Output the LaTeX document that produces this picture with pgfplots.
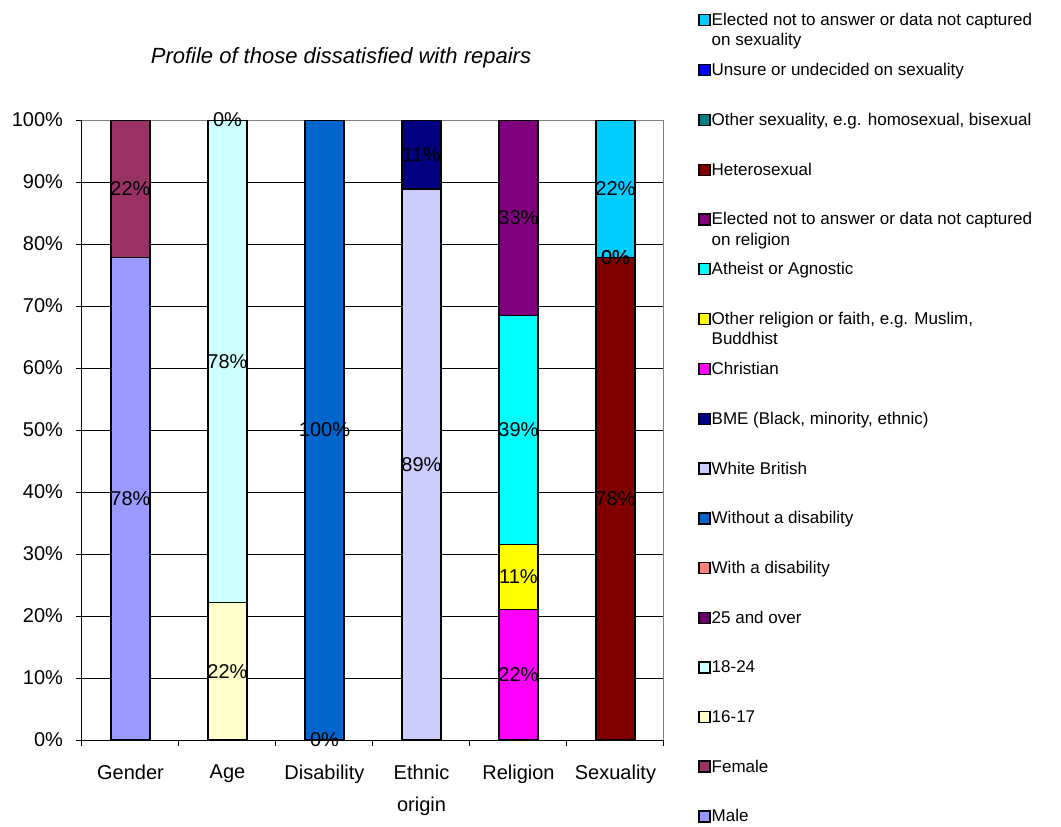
\documentclass[border=0pt]{standalone}
\usepackage{pgfplots}
\pgfplotsset{compat=1.18}
\usepackage{pgfplotstable}
\usepackage{fontspec}
\setmainfont{Liberation Sans}

\definecolor{cMale}{HTML}{9999FF}
\definecolor{cFemale}{HTML}{993366}
\definecolor{cAgeA}{HTML}{FFFFCC}
\definecolor{cAgeB}{HTML}{CCFFFF}
\definecolor{cAgeC}{HTML}{660066}
\definecolor{cDisY}{HTML}{FF8080}
\definecolor{cDisN}{HTML}{0066CC}
\definecolor{cEthW}{HTML}{CCCCFF}
\definecolor{cEthB}{HTML}{000080}
\definecolor{cRelC}{HTML}{FF00FF}
\definecolor{cRelO}{HTML}{FFFF00}
\definecolor{cRelA}{HTML}{00FFFF}
\definecolor{cRelE}{HTML}{800080}
\definecolor{cSexH}{HTML}{800000}
\definecolor{cSexO}{HTML}{008080}
\definecolor{cSexU}{HTML}{0000FF}
\definecolor{cSexE}{HTML}{00CCFF}

% shares in % and the label printed on each segment ({} = none)
% the labelled 0% segments are kept at 0.001 so that their label is drawn
\pgfplotstableread{
x m     lm   f     lf   aa    laa  ab    lab  ac    lac  da    lda  db  ldb   ea    lea  eb    leb  ra    lra  rb    lrb  rc    lrc  rd    lrd  sa    lsa  sb    lsb  sc    lsc  sd    lsd
0 77.78 78\% 22.22 22\% 0     {}   0     {}   0     {}   0     {}   0   {}    0     {}   0     {}   0     {}   0     {}   0     {}   0     {}   0     {}   0     {}   0     {}   0     {}
1 0     {}   0     {}   22.22 22\% 77.78 78\% 0.001 0\%  0     {}   0   {}    0     {}   0     {}   0     {}   0     {}   0     {}   0     {}   0     {}   0     {}   0     {}   0     {}
2 0     {}   0     {}   0     {}   0     {}   0     {}   0.001 0\%  100 100\% 0     {}   0     {}   0     {}   0     {}   0     {}   0     {}   0     {}   0     {}   0     {}   0     {}
3 0     {}   0     {}   0     {}   0     {}   0     {}   0     {}   0   {}    88.89 89\% 11.11 11\% 0     {}   0     {}   0     {}   0     {}   0     {}   0     {}   0     {}   0     {}
4 0     {}   0     {}   0     {}   0     {}   0     {}   0     {}   0   {}    0     {}   0     {}   21.05 22\% 10.53 11\% 36.84 39\% 31.58 33\% 0     {}   0     {}   0     {}   0     {}
5 0     {}   0     {}   0     {}   0     {}   0     {}   0     {}   0   {}    0     {}   0     {}   0     {}   0     {}   0     {}   0     {}   77.78 78\% 0.001 0\%  0.001 0\%  22.22 22\%
}\data

\newcommand{\lent}[1]{\parbox[t][24pt][t]{172pt}{\raggedright #1}}
\newcommand{\tfont}{\fontsize{10}{16}\selectfont}

\begin{document}
\begin{tikzpicture}
\useasboundingbox (-41pt,-43pt) rectangle (489.5pt,370pt);
\begin{axis}[
  scale only axis, width=291pt, height=310pt,
  ybar stacked, bar width=19.5pt,
  xmin=-0.5, xmax=5.5, ymin=0, ymax=100,
  axis x line*=bottom, axis y line*=left,
  axis line style={black, line width=0.5pt},
  tick align=outside, major tick length=3pt,
  tick style={black, line width=0.5pt},
  xtick={-0.5,0.5,...,5.5}, xticklabels={},
  extra x ticks={0,...,5},
  extra x tick labels={Gender,Age,Disability,{Ethnic\\origin},Religion,Sexuality},
  extra x tick style={major tick length=0pt},
  ytick={0,10,...,100},
  yticklabels={0\%,10\%,20\%,30\%,40\%,50\%,60\%,70\%,80\%,90\%,100\%},
  ymajorgrids, major grid style={black, line width=0.5pt},
  xticklabel style={font=\tfont, align=center, yshift=-9pt},
  yticklabel style={font=\tfont, xshift=-3pt},
  every axis plot/.append style={draw=black, line width=0.65pt},
  title={Profile of those dissatisfied with repairs},
  every axis title/.style={at={(0.445,1)}, anchor=center, yshift=31pt,
    font=\fontsize{11}{13}\selectfont\itshape},
  reverse legend, legend cell align=left,
  legend style={at={(1,1)}, anchor=north west, xshift=17pt, yshift=54pt,
    draw=none, fill=none, inner sep=0pt, row sep=16.25pt,
    font=\fontsize{8.5}{10}\selectfont,
    cells={anchor=base west}, nodes={inner sep=0.5pt}},
  legend image code/.code={\draw[#1] (0pt,0pt) rectangle (5.5pt,5.5pt);},
]
\addplot[fill=cMale]   table[x=x,y=m]{\data};  \addlegendentry{\lent{Male}}
\addplot[fill=cFemale] table[x=x,y=f]{\data};  \addlegendentry{\lent{Female}}
\addplot[fill=cAgeA]   table[x=x,y=aa]{\data}; \addlegendentry{\lent{16-17}}
\addplot[fill=cAgeB]   table[x=x,y=ab]{\data}; \addlegendentry{\lent{18-24}}
\addplot[fill=cAgeC]   table[x=x,y=ac]{\data}; \addlegendentry{\lent{25 and over}}
\addplot[fill=cDisY]   table[x=x,y=da]{\data}; \addlegendentry{\lent{With a disability}}
\addplot[fill=cDisN]   table[x=x,y=db]{\data}; \addlegendentry{\lent{Without a disability}}
\addplot[fill=cEthW]   table[x=x,y=ea]{\data}; \addlegendentry{\lent{White British}}
\addplot[fill=cEthB]   table[x=x,y=eb]{\data}; \addlegendentry{\lent{BME (Black, minority, ethnic)}}
\addplot[fill=cRelC]   table[x=x,y=ra]{\data}; \addlegendentry{\lent{Christian}}
\addplot[fill=cRelO]   table[x=x,y=rb]{\data}; \addlegendentry{\lent{Other religion or faith, e.g. Muslim,\\Buddhist}}
\addplot[fill=cRelA]   table[x=x,y=rc]{\data}; \addlegendentry{\lent{Atheist or Agnostic}}
\addplot[fill=cRelE]   table[x=x,y=rd]{\data}; \addlegendentry{\lent{Elected not to answer or data not captured\\on religion}}
\addplot[fill=cSexH]   table[x=x,y=sa]{\data}; \addlegendentry{\lent{Heterosexual}}
\addplot[fill=cSexO]   table[x=x,y=sb]{\data}; \addlegendentry{\lent{Other sexuality, e.g. homosexual, bisexual}}
\addplot[fill=cSexU]   table[x=x,y=sc]{\data}; \addlegendentry{\lent{Unsure or undecided on sexuality}}
\addplot[fill=cSexE]   table[x=x,y=sd]{\data}; \addlegendentry{\lent{Elected not to answer or data not captured\\on sexuality}}
\draw[gray, line width=0.5pt] (rel axis cs:0,1) -- (rel axis cs:1,1) -- (rel axis cs:1,0);
\end{axis}

% second pass: the same stack, invisible, only to put the labels on top
\begin{axis}[
  scale only axis, width=291pt, height=310pt, hide axis, clip=false,
  ybar stacked, bar width=19.5pt,
  xmin=-0.5, xmax=5.5, ymin=0, ymax=100,
  nodes near coords, point meta=explicit symbolic,
  every node near coord/.append style={anchor=center, font=\tfont, text=black},
]
\addplot[draw=none, fill=none] table[x=x,y=m,meta=lm]{\data};
\addplot[draw=none, fill=none] table[x=x,y=f,meta=lf]{\data};
\addplot[draw=none, fill=none] table[x=x,y=aa,meta=laa]{\data};
\addplot[draw=none, fill=none] table[x=x,y=ab,meta=lab]{\data};
\addplot[draw=none, fill=none] table[x=x,y=ac,meta=lac]{\data};
\addplot[draw=none, fill=none] table[x=x,y=da,meta=lda]{\data};
\addplot[draw=none, fill=none] table[x=x,y=db,meta=ldb]{\data};
\addplot[draw=none, fill=none] table[x=x,y=ea,meta=lea]{\data};
\addplot[draw=none, fill=none] table[x=x,y=eb,meta=leb]{\data};
\addplot[draw=none, fill=none] table[x=x,y=ra,meta=lra]{\data};
\addplot[draw=none, fill=none] table[x=x,y=rb,meta=lrb]{\data};
\addplot[draw=none, fill=none] table[x=x,y=rc,meta=lrc]{\data};
\addplot[draw=none, fill=none] table[x=x,y=rd,meta=lrd]{\data};
\addplot[draw=none, fill=none] table[x=x,y=sa,meta=lsa]{\data};
\addplot[draw=none, fill=none] table[x=x,y=sb,meta=lsb]{\data};
\addplot[draw=none, fill=none] table[x=x,y=sc,meta=lsc]{\data};
\addplot[draw=none, fill=none] table[x=x,y=sd,meta=lsd]{\data};
\end{axis}
\end{tikzpicture}
\end{document}
